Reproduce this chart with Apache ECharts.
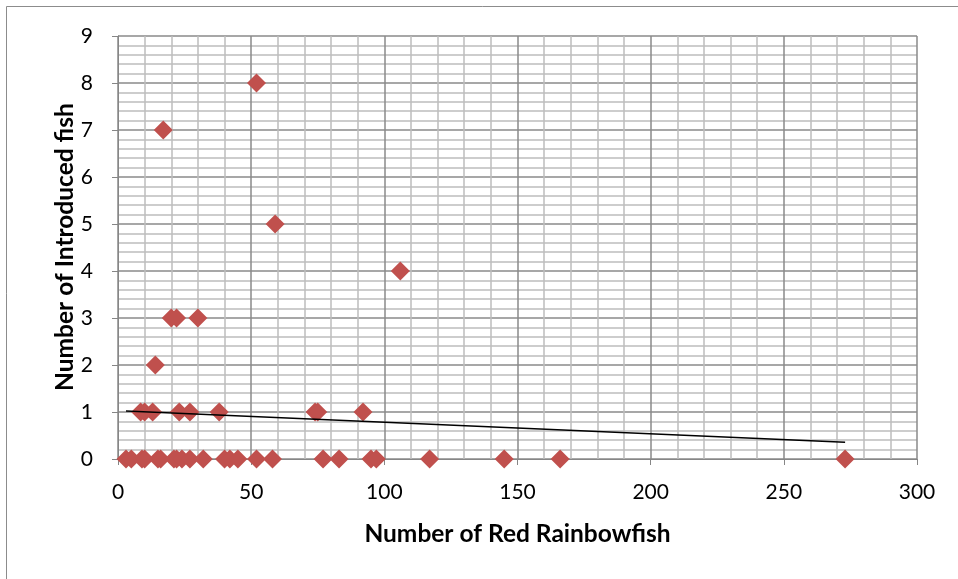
<!DOCTYPE html>
<html>
<head>
<meta charset="utf-8">
<script src="https://cdn.jsdelivr.net/npm/echarts@6/dist/echarts.min.js"></script>
<style>
  html, body { margin: 0; padding: 0; background: #fff; }
  #chart { width: 958px; height: 579px; }
</style>
</head>
<body>
<div id="chart"></div>
<script>
// Survey counts: number of Red Rainbowfish vs number of introduced fish per site
const rainbowfish = [
  52, 17, 59, 106, 20, 22, 30, 14,
  8.5, 10, 13, 23, 27, 38, 74, 75, 92,
  3, 5, 9, 10, 15, 16, 21, 22, 24, 27, 32, 40, 42, 45, 52, 58, 77, 83, 95, 97, 117, 145, 166, 273
];
const introduced = [
  8, 7, 5, 4, 3, 3, 3, 2,
  1, 1, 1, 1, 1, 1, 1, 1, 1,
  0, 0, 0, 0, 0, 0, 0, 0, 0, 0, 0, 0, 0, 0, 0, 0, 0, 0, 0, 0, 0, 0, 0, 0
];

// Linear trendline coefficients (y = slope * x + intercept)
const trendSlope = -0.00246;
const trendIntercept = 1.027;

const xTicks = [0, 50, 100, 150, 200, 250, 300];
const yTicks = [0, 1, 2, 3, 4, 5, 6, 7, 8, 9];

const xTitle = 'Number of Red Rainbowfish';
const yTitle = 'Number of Introduced fish';

const points = rainbowfish.map((x, i) => [x, introduced[i]]);
const xMin = Math.min(...rainbowfish);
const xMax = Math.max(...rainbowfish);
const trend = [
  [xMin, trendSlope * xMin + trendIntercept],
  [xMax, trendSlope * xMax + trendIntercept]
];

const FONT = 'Lato, "Open Sans", sans-serif';

const chart = echarts.init(document.getElementById('chart'), null, { renderer: 'canvas' });
chart.setOption({
  animation: false,
  backgroundColor: '#ffffff',
  graphic: [
    {
      type: 'rect',
      shape: { x: 6.5, y: 6.5, width: 1000, height: 1000 },
      style: { fill: 'none', stroke: '#8c8c8c', lineWidth: 1 },
      silent: true
    },
    {
      // vertical axis title, rotated to read bottom-to-top
      type: 'text',
      x: 65,
      y: 247,
      rotation: Math.PI / 2,
      style: {
        text: yTitle,
        fontFamily: FONT,
        fontSize: 24.5,
        fontWeight: 'bold',
        fill: '#000',
        align: 'center',
        verticalAlign: 'middle'
      },
      silent: true
    }
  ],
  grid: { left: 118, right: 41, top: 36, bottom: 120, containLabel: false },
  xAxis: {
    type: 'value',
    min: xTicks[0],
    max: xTicks[xTicks.length - 1],
    interval: 50,
    name: xTitle,
    nameLocation: 'middle',
    nameGap: 63,
    nameTextStyle: { fontFamily: FONT, fontSize: 24.5, fontWeight: 'bold', color: '#000' },
    axisLine: { show: true, onZero: false, lineStyle: { color: '#868686', width: 1 } },
    axisTick: { show: true, length: 6, lineStyle: { color: '#868686' } },
    axisLabel: { fontFamily: FONT, fontSize: 21, color: '#000', margin: 23 },
    splitLine: { show: true, lineStyle: { color: '#8a8a8a', width: 1.5 } },
    minorTick: { show: false, splitNumber: 5 },
    minorSplitLine: { show: true, lineStyle: { color: '#bdbdbd', width: 1.5 } }
  },
  yAxis: {
    type: 'value',
    min: yTicks[0],
    max: yTicks[yTicks.length - 1],
    interval: 1,
    axisLine: { show: true, onZero: false, lineStyle: { color: '#868686', width: 1 } },
    axisTick: { show: true, length: 6, lineStyle: { color: '#868686' } },
    axisLabel: { fontFamily: FONT, fontSize: 21, color: '#000', margin: 25 },
    splitLine: { show: true, lineStyle: { color: '#8a8a8a', width: 1.5 } },
    minorTick: { show: false, splitNumber: 5 },
    minorSplitLine: { show: true, lineStyle: { color: '#bdbdbd', width: 1.5 } }
  },
  series: [
    {
      type: 'scatter',
      data: points,
      symbol: 'diamond',
      symbolSize: [19, 19],
      itemStyle: { color: '#c0504d', opacity: 1 },
      z: 3
    },
    {
      type: 'line',
      data: trend,
      symbol: 'none',
      lineStyle: { color: '#000', width: 1.5 },
      z: 4
    }
  ]
});
</script>
</body>
</html>
